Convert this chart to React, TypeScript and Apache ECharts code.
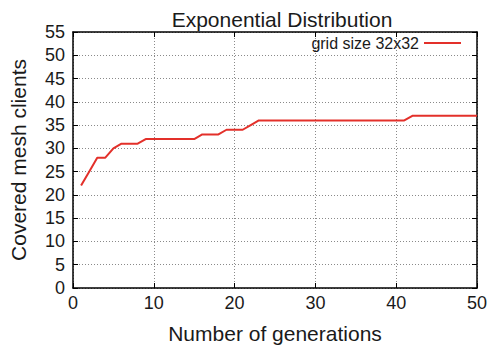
import React, { useEffect, useRef } from "react";
import * as echarts from "echarts";

const generations: number[] = [1, 2, 3, 4, 5, 6, 7, 8, 9, 10, 11, 12, 13, 14, 15, 16, 17, 18, 19, 20, 21, 22, 23, 24, 25, 26, 27, 28, 29, 30, 31, 32, 33, 34, 35, 36, 37, 38, 39, 40, 41, 42, 43, 44, 45, 46, 47, 48, 49, 50];
const coveredClients: number[] = [22, 25, 28, 28, 30, 31, 31, 31, 32, 32, 32, 32, 32, 32, 32, 33, 33, 33, 34, 34, 34, 35, 36, 36, 36, 36, 36, 36, 36, 36, 36, 36, 36, 36, 36, 36, 36, 36, 36, 36, 36, 37, 37, 37, 37, 37, 37, 37, 37, 37];
const seriesName = "grid size 32x32";

const FONT = "'Liberation Sans', Arial, Helvetica, sans-serif";

export default function App() {
  const ref = useRef<HTMLDivElement>(null);

  useEffect(() => {
    if (!ref.current) return;
    const chart = echarts.init(ref.current, undefined, { renderer: "svg" });
    const gridLine = { show: true, lineStyle: { color: "#8a8a8a", width: 1, type: [1, 2] as any } };
    chart.setOption({
      animation: false,
      backgroundColor: "#fff",
      textStyle: { fontFamily: FONT, color: "#000" },
      title: {
        text: "Exponential Distribution",
        left: 277,
        textAlign: "center",
        top: 4,
        textStyle: { fontFamily: FONT, fontSize: 21, fontWeight: "normal", color: "#1a1a1a" },
      },
      legend: {
        data: [seriesName],
        right: 32,
        top: 35,
        align: "right",
        icon: "rect",
        itemWidth: 37,
        itemHeight: 2,
        itemGap: 5,
        padding: 0,
        textStyle: { fontFamily: FONT, fontSize: 16, color: "#1a1a1a", padding: [0, 0, 0, 0] },
      },
      grid: { left: 72, top: 32, width: 405, height: 257, show: false },
      xAxis: [
        {
          type: "value",
          min: 0,
          max: 50,
          interval: 10,
          name: "Number of generations",
          nameLocation: "middle",
          nameGap: 35,
          nameTextStyle: { fontFamily: FONT, fontSize: 21, color: "#1a1a1a" },
          axisLine: { show: true, onZero: false, lineStyle: { color: "#000", width: 1.5 } },
          axisTick: { show: true, inside: true, length: 5, lineStyle: { color: "#000" } },
          axisLabel: { fontFamily: FONT, fontSize: 18, color: "#1a1a1a", margin: 6 },
          splitLine: gridLine,
        },
        {
          type: "value",
          position: "top",
          min: 0,
          max: 50,
          interval: 10,
          axisLine: { show: true, onZero: false, lineStyle: { color: "#000", width: 1.5 } },
          axisTick: { show: true, inside: true, length: 5, lineStyle: { color: "#000" } },
          axisLabel: { show: false },
          splitLine: { show: false },
        },
      ],
      yAxis: [
        {
          type: "value",
          min: 0,
          max: 55,
          interval: 5,
          name: "Covered mesh clients",
          nameLocation: "middle",
          nameGap: 44,
          nameTextStyle: { fontFamily: FONT, fontSize: 21, color: "#1a1a1a" },
          axisLine: { show: true, onZero: false, lineStyle: { color: "#000", width: 1.5 } },
          axisTick: { show: true, inside: true, length: 5, lineStyle: { color: "#000" } },
          axisLabel: { fontFamily: FONT, fontSize: 18, color: "#1a1a1a", margin: 8 },
          splitLine: gridLine,
        },
        {
          type: "value",
          position: "right",
          min: 0,
          max: 55,
          interval: 5,
          axisLine: { show: true, onZero: false, lineStyle: { color: "#000", width: 1.5 } },
          axisTick: { show: true, inside: true, length: 5, lineStyle: { color: "#000" } },
          axisLabel: { show: false },
          splitLine: { show: false },
        },
      ],
      series: [
        {
          name: seriesName,
          type: "line",
          xAxisIndex: 0,
          yAxisIndex: 0,
          data: generations.map((g, i) => [g, coveredClients[i]]),
          showSymbol: false,
          symbol: "none",
          itemStyle: { color: "#e3302a" },
          lineStyle: { color: "#e3302a", width: 2 },
        },
      ],
    });
    return () => chart.dispose();
  }, []);

  return (
    <div
      ref={ref}
      style={{ position: "fixed", left: 0, top: 0, width: 493, height: 349 }}
    />
  );
}
